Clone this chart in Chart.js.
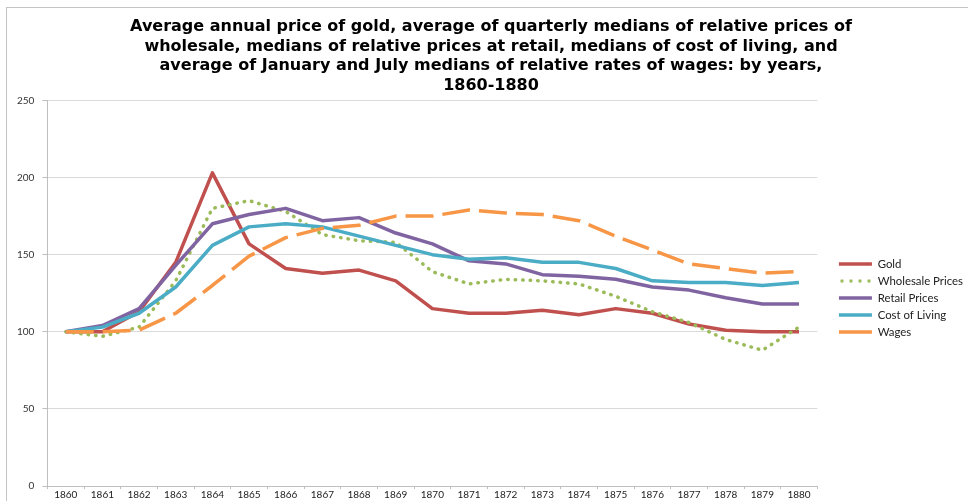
<!DOCTYPE html>
<html>
<head>
<meta charset="utf-8">
<script src="https://cdn.jsdelivr.net/npm/chart.js@4.4.1/dist/chart.umd.min.js"></script>
<style>
  html, body { margin: 0; padding: 0; background: #fff; overflow: hidden; }
  #frame {
    position: absolute; left: 6px; top: 7px; width: 962px; height: 494px;
    border-left: 1px solid #c4c4c4; border-top: 1px solid #c4c4c4;
  }
  #wrap { position: absolute; left: 0; top: 0; width: 962px; height: 494px; }
</style>
</head>
<body>
<div id="frame"><div id="wrap"><canvas id="myChart"></canvas></div></div>
<script>
'use strict';

var years = ['1860', '1861', '1862', '1863', '1864', '1865', '1866', '1867', '1868', '1869', '1870',
             '1871', '1872', '1873', '1874', '1875', '1876', '1877', '1878', '1879', '1880'];

var gold      = [100, 100, 113, 145, 203, 157, 141, 138, 140, 133, 115, 112, 112, 114, 111, 115, 112, 105, 101, 100, 100];
var wholesale = [100, 97, 103, 133, 180, 185, 178, 163, 159, 158, 139, 131, 134, 133, 131, 123, 113, 106, 95, 88, 103];
var retail    = [100, 104, 115, 143, 170, 176, 180, 172, 174, 164, 157, 146, 144, 137, 136, 134, 129, 127, 122, 118, 118];
var living    = [100, 103, 112, 129, 156, 168, 170, 168, 162, 156, 150, 147, 148, 145, 145, 141, 133, 132, 132, 130, 132];
var wages     = [100, 100, 101, 112, 130, 149, 161, 167, 169, 175, 175, 179, 177, 176, 172, 162, 153, 144, 141, 138, 139];

var yTicks = [0, 50, 100, 150, 200, 250];

var titleLines = [
    'Average annual price of gold, average of quarterly medians of relative prices of',
    'wholesale, medians of relative prices at retail, medians of cost of living, and',
    'average of January and July medians of relative rates of wages: by years,',
    '1860-1880'
];

// dotted legend sample for the wholesale series (legend point styles ignore dashes)
var dots = document.createElement('canvas');
dots.width = 33;
dots.height = 5;
(function () {
    var c = dots.getContext('2d');
    c.fillStyle = '#9BBB59';
    [3, 12, 21, 30].forEach(function (x) {
        c.beginPath();
        c.arc(x, 2.5, 1.7, 0, Math.PI * 2);
        c.fill();
    });
})();

function series(label, data, color, dash, cap, order, legendStyle) {
    return {
        label: label,
        data: data,
        borderColor: color,
        backgroundColor: color,
        borderWidth: 3.5,
        borderDash: dash,
        borderCapStyle: cap,
        borderJoinStyle: 'round',
        pointRadius: 0,
        pointStyle: legendStyle || 'line',
        tension: 0,
        fill: false,
        order: order
    };
}

const ctx = document.getElementById('myChart');

new Chart(ctx, {
    type: 'line',
    data: {
        labels: years,
        datasets: [
            series('Gold', gold, '#C0504D', [], 'butt', 5),
            series('Wholesale Prices', wholesale, '#9BBB59', [0.5, 7], 'round', 4, dots),
            series('Retail Prices', retail, '#8064A2', [], 'butt', 3),
            series('Cost of Living', living, '#4BACC6', [], 'butt', 2),
            series('Wages', wages, '#F79646', [28, 9], 'butt', 1)
        ]
    },
    options: {
        responsive: true,
        maintainAspectRatio: false,
        animation: false,
        layout: { padding: { left: 2, right: -4, bottom: 1, top: 0 } },
        plugins: {
            title: {
                display: true,
                text: titleLines,
                color: '#000',
                font: { family: 'DejaVu Sans', size: 16, weight: 'bold', lineHeight: 1.225 },
                padding: { top: 9, bottom: 5 }
            },
            legend: {
                position: 'right',
                title: {
                    display: true,
                    text: ' ',
                    font: { size: 1, lineHeight: 1 },
                    padding: { top: 0, bottom: 86 }
                },
                labels: {
                    usePointStyle: true,
                    pointStyleWidth: 33,
                    boxHeight: 10,
                    padding: 5.6,
                    color: '#222',
                    font: { family: 'Lato', size: 11.4 },
                    sort: function (a, b) { return a.datasetIndex - b.datasetIndex; }
                }
            },
            tooltip: { enabled: false }
        },
        scales: {
            x: {
                offset: true,
                grid: {
                    display: true,
                    offset: true,
                    drawOnChartArea: false,
                    drawTicks: true,
                    tickLength: 3,
                    color: '#bfbfbf'
                },
                border: { color: '#bfbfbf', width: 1 },
                ticks: {
                    color: '#222',
                    font: { family: 'Lato', size: 10, lineHeight: 1.2 },
                    maxRotation: 0,
                    autoSkip: false,
                    padding: 0
                }
            },
            y: {
                min: 0,
                max: 250,
                afterBuildTicks: function (axis) {
                    axis.ticks = yTicks.map(function (v) { return { value: v }; });
                },
                grid: {
                    color: '#d9d9d9',
                    lineWidth: 1,
                    drawTicks: true,
                    tickLength: 5,
                    tickColor: '#bfbfbf'
                },
                border: { color: '#bfbfbf', width: 1 },
                ticks: {
                    color: '#333',
                    font: { family: 'Lato', size: 10 },
                    padding: 8
                }
            },
            gap: {
                position: 'right',
                display: true,
                grid: { display: false },
                border: { display: false },
                ticks: { display: false },
                afterFit: function (scale) { scale.width = 16; }
            }
        }
    }
});
</script>
</body>
</html>
